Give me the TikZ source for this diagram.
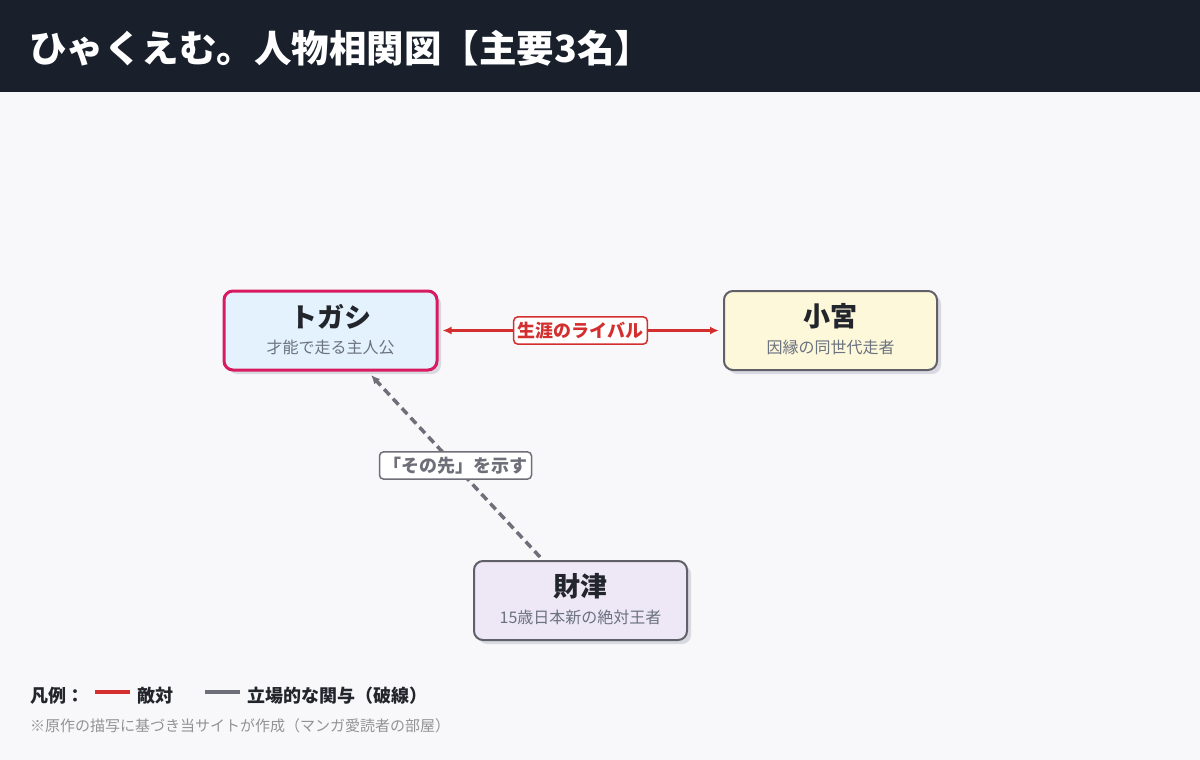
\documentclass[tikz,border=0pt]{standalone}
\usepackage{fontspec}
\setmainfont{Noto Sans CJK JP}
\usetikzlibrary{arrows.meta,shadows}
\definecolor{hdr}{HTML}{19202B}
\definecolor{bg}{HTML}{F8F8FB}
\definecolor{crim}{HTML}{D81B60}
\definecolor{rivalred}{HTML}{D32F2F}
\definecolor{edgegray}{HTML}{5F6068}
\definecolor{dashgray}{HTML}{6E6F78}
\definecolor{subgray}{HTML}{6B7280}
\definecolor{inktext}{HTML}{22252B}
\definecolor{shadowc}{HTML}{D9D9E1}
\begin{document}
\begin{tikzpicture}[x=1pt,y=-1pt,
  person/.style={draw=edgegray,line width=2pt,rounded corners=9pt,minimum width=213pt,minimum height=79pt,inner sep=0pt,
    drop shadow={shadow xshift=4pt,shadow yshift=-4pt,fill=shadowc,opacity=1}},
  nametext/.style={font=\bfseries\fontsize{27}{30}\selectfont,text=inktext,inner sep=0pt},
  subtext/.style={font=\fontsize{16}{19}\selectfont,text=subgray,inner sep=0pt},
  elabel/.style={draw,fill=white,line width=1.5pt,rounded corners=4pt,inner xsep=4pt,inner ysep=5pt,font=\bfseries\fontsize{18}{21}\selectfont},
  legtext/.style={font=\bfseries\fontsize{18}{21}\selectfont,text=inktext,anchor=west,inner sep=0pt}
]
\useasboundingbox (0,0) rectangle (1200,760);
\fill[bg] (0,0) rectangle (1200,760);
\fill[hdr] (0,0) rectangle (1200,92);
\node[anchor=west,inner sep=0pt,text=white,font=\bfseries\fontsize{37.5}{42}\selectfont] (title) at (29,48) {ひゃくえむ。人物相関図【主要3名】};

% persons
\node[person,draw=crim,line width=3pt,fill={rgb,255:red,227;green,242;blue,253}] (togashi) at (330.5,330.5) {};
\node[person,fill={rgb,255:red,254;green,248;blue,219}] (komiya) at (830.5,330.5) {};
\node[person,fill={rgb,255:red,237;green,231;blue,246}] (zaitsu) at (580.5,600.5) {};

\node[nametext] (tn) at ([yshift=14pt]togashi.center) {トガシ};
\node[subtext] (ts) at ([yshift=-17pt]togashi.center) {才能で走る主人公};
\node[nametext] (kn) at ([yshift=14pt]komiya.center) {小宮};
\node[subtext] (ks) at ([yshift=-17pt]komiya.center) {因縁の同世代走者};
\node[nametext] (zn) at ([yshift=14pt]zaitsu.center) {財津};
\node[subtext] (zs) at ([yshift=-17pt]zaitsu.center) {15歳日本新の絶対王者};

% rival edge
\coordinate (ra) at ([xshift=4pt]togashi.east);
\coordinate (rb) at ([xshift=-4pt]komiya.west);
\draw[rivalred,line width=3.5pt,{Latex[length=9pt,width=8pt]}-{Latex[length=9pt,width=8pt]}] (ra) -- (rb);
\node[elabel,draw=rivalred,text=rivalred] (rl) at (580.5,330.5) {生涯のライバル};

% dashed edge
\coordinate (ds) at (540,557);
\coordinate (de) at (371,375);
\draw[dashgray,line width=3.5pt,dash pattern=on 8pt off 5pt,-{Latex[length=9pt,width=8pt]}] (ds) -- (de);
\node[elabel,draw=dashgray,text=dashgray] (dl) at (455.5,465.5) {「その先」を示す};

% legend
\node[legtext] (lg) at (30,696) {凡例：};
\coordinate (l1a) at (95,692); \coordinate (l1b) at (130,692);
\draw[rivalred,line width=4pt] (l1a) -- (l1b);
\node[legtext] (lg1) at (137,696) {敵対};
\coordinate (l2a) at (205,692); \coordinate (l2b) at (240,692);
\draw[dashgray,line width=4pt] (l2a) -- (l2b);
\node[legtext] (lg2) at (247,696) {立場的な関与（破線）};
\node[anchor=west,inner sep=0pt,text=gray!85!white,font=\fontsize{15}{18}\selectfont] (note) at (30,726) {※原作の描写に基づき当サイトが作成（マンガ愛読者の部屋）};
\end{tikzpicture}
\end{document}
